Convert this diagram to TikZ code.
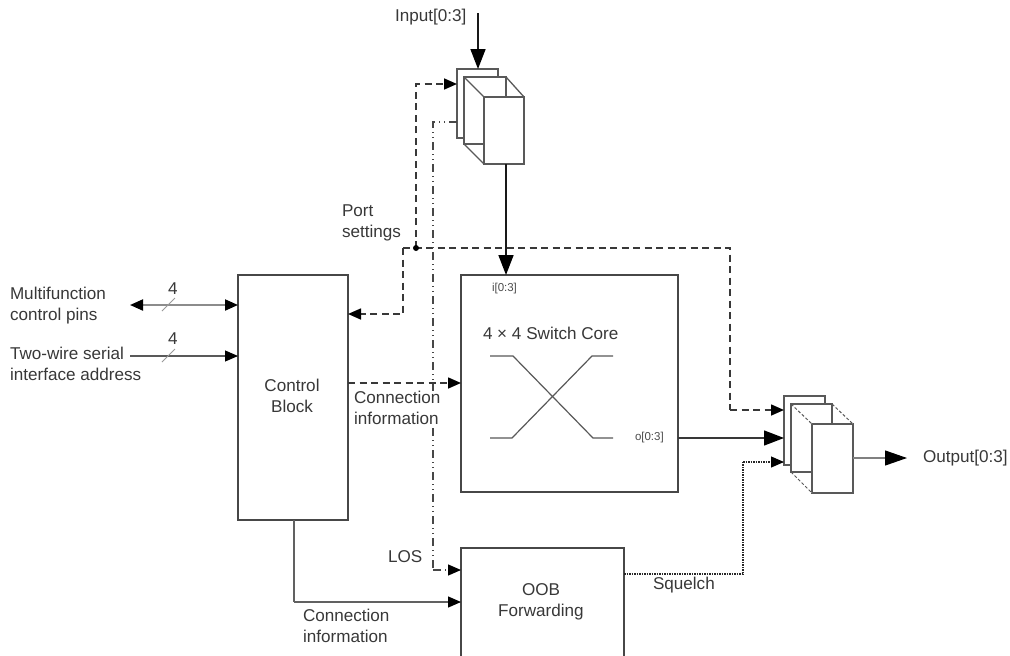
\documentclass[tikz,border=0pt]{standalone}
\usepackage{fontspec}
\setmainfont{Liberation Sans}
\usetikzlibrary{arrows.meta}
\tikzset{
 blk/.style={draw=black!72,line width=1.5pt,fill=white,inner sep=0pt,outer sep=0pt,align=center,text=black!80},
 muxa/.style={draw=black!65,line width=1.3pt,fill=white,inner sep=0pt,outer sep=0pt},
 lbl/.style={inner sep=0pt,outer sep=0pt,align=left,anchor=west,text=black!78,font=\fontsize{17.1}{21.5}\selectfont},
 tiny/.style={inner sep=0pt,outer sep=0pt,anchor=west,text=black!70,font=\fontsize{11.5}{12}\selectfont},
 wire/.style={draw=black!78,line width=1.1pt},
 big/.style={-{Triangle[length=20pt,width=15pt,black]}},
 mid/.style={-{Triangle[length=13pt,width=11pt,black]}},
 dsh/.style={wire,line width=1.6pt,dash pattern=on 7pt off 4.5pt},
 dshdot/.style={draw=black!72,line width=1.3pt,dash pattern=on 8pt off 4pt on 1pt off 4pt on 1pt off 4pt},
 dot/.style={draw=black!85,line width=1.1pt,dash pattern=on 1.5pt off 1pt}
}
\begin{document}
\begin{tikzpicture}[x=1pt,y=-1pt]
 \useasboundingbox (0,0) rectangle (1010,656);
 \clip (0,0) rectangle (1010,656);
 \node[blk,minimum width=110pt,minimum height=245pt] (ctrl) at (293,397.5) {};
 \node[blk,minimum width=217pt,minimum height=217pt] (core) at (569.5,383.5) {};
 \node[blk,minimum width=163pt,minimum height=130pt] (oob) at (542.5,613) {};
 \node[muxa,minimum width=41pt,minimum height=69pt] (ina) at (477.5,103.5) {};
 \node[muxa,minimum width=42pt,minimum height=67pt] (inb) at (485,110.5) {};
 \node[muxa,minimum width=40pt,minimum height=67pt] (inc) at (504,130.5) {};
 \node[muxa,minimum width=41pt,minimum height=69pt] (outa) at (804.5,430.5) {};
 \node[muxa,minimum width=41pt,minimum height=68pt] (outb) at (811.5,438) {};
 \node[muxa,minimum width=41pt,minimum height=69pt] (outc) at (832.5,458.5) {};
 \draw[muxa] (inb.north west) -- (inc.north west);
 \draw[muxa] (inb.north east) -- (inc.north east);
 \draw[muxa] (inb.south west) -- (inc.south west);
 \draw[muxa,line width=1pt,densely dashed] (outb.north west) -- (outc.north west);
 \draw[muxa,line width=1pt,densely dashed] (outb.north east) -- (outc.north east);
 \draw[muxa,line width=1pt,densely dashed] (outb.south west) -- (outc.south west);
 \coordinate (inp) at (478,13);
 \coordinate (pinl) at (130,305);
 \coordinate (twol) at (130,356);
 \coordinate (junc) at (416,248);
 \coordinate (corner) at (403,248);
 \coordinate (ctlin) at (403,314);
 \coordinate (muxin) at (416,84);
 \coordinate (right) at (730,248);
 \coordinate (rightin) at (730,410);
 \coordinate (los) at (433,122);
 \coordinate (losb) at (433,570);
 \coordinate (info) at (348,383);
 \coordinate (coreout) at (678,438);
 \coordinate (sq) at (743,574);
 \coordinate (sqin) at (743,462);
 \coordinate (outl) at (853,458);
 \coordinate (outr) at (907,458);
 \coordinate (low) at (294,602);
 \draw[wire,draw=black!90,line width=1.7pt,big] (inp) -- (inp |- ina.north);
 \draw[wire,draw=black!90,line width=1.7pt,big] (inb.east |- inc.south) -- (inb.east |- core.north);
 \draw[draw=black!45,line width=2pt,{Triangle[length=13pt,width=11pt,black]}-{Triangle[length=13pt,width=11pt,black]}] (pinl) -- (pinl -| ctrl.west);
 \draw[wire,draw=black!65,mid] (twol) -- (twol -| ctrl.west);
 \draw[draw=black!40,line width=1pt] (162,311) -- (175,298);
 \draw[draw=black!40,line width=1pt] (162,362) -- (175,349);
 \draw[dsh] (corner) -- (junc) -- (right) -- (rightin);
 \draw[dsh,mid] (rightin) -- (rightin -| outa.west);
 \draw[dsh,mid] (corner) -- (ctlin) -- (ctlin -| ctrl.east);
 \draw[dsh,mid] (junc) -- (muxin) -- (muxin -| ina.west);
 \fill[black] (junc) circle (3pt);
 \draw[dshdot] (los -| ina.west) -- (los) -- (losb);
 \draw[dshdot,mid] (losb) -- (losb -| oob.west);
 \draw[dsh,mid] (info) -- (info -| core.west);
 \draw[wire,line width=1.3pt,big] (coreout) -- (coreout -| outa.west);
 \draw[dot] (sq -| oob.east) -- (sq) -- (sqin);
 \draw[dot,mid] (sqin) -- (sqin -| outa.west);
 \draw[draw=black!50,line width=1.1pt,-{Triangle[length=22pt,width=15pt,black]}] (outl) -- (outr);
 \draw[wire,draw=black!62,line width=1.2pt] (low |- ctrl.south) -- (low);
 \draw[wire,draw=black!62,line width=1.2pt,mid] (low) -- (low -| oob.west);
 \draw[draw=black!65,line width=1.2pt] (490,356) -- (513,356) -- (593,438) -- (613,438);
 \draw[draw=black!65,line width=1.2pt] (490,438) -- (512,438) -- (592,356) -- (613,356);
 \node[lbl] (inplbl) at (395,17) {Input[0:3]};
 \node[lbl] (portlbl) at (342,223) {Port\\settings};
 \node[lbl] (pinlbl) at (10,305.5) {Multifunction\\control pins};
 \node[lbl] (twolbl) at (10,364) {Two-wire serial\\interface address};
 \node[lbl,anchor=center] (pina) at (173,289) {4};
 \node[lbl,anchor=center] (twoa) at (173,339) {4};
 \node[lbl,align=center,anchor=center] (ctrllbl) at (292,396) {Control\\Block};
 \node[lbl,fill=white] (infolbl) at (354,408) {Connection\\information};
 \node[tiny] (ilbl) at (492,289) {i[0:3]};
 \node[tiny] (olbl) at (635,438) {o[0:3]};
 \node[lbl] (corelbl) at (483,333) {4 × 4 Switch Core};
 \node[lbl] (loslbl) at (388,557) {LOS};
 \node[lbl] (sqlbl) at (653,585) {Squelch};
 \node[lbl] (lowlbl) at (303,626) {Connection\\information};
 \node[lbl,align=center,anchor=center] (ooblbl) at (541,602) {OOB\\Forwarding};
 \node[lbl] (outlbl) at (923,458) {Output[0:3]};
\end{tikzpicture}
\end{document}
